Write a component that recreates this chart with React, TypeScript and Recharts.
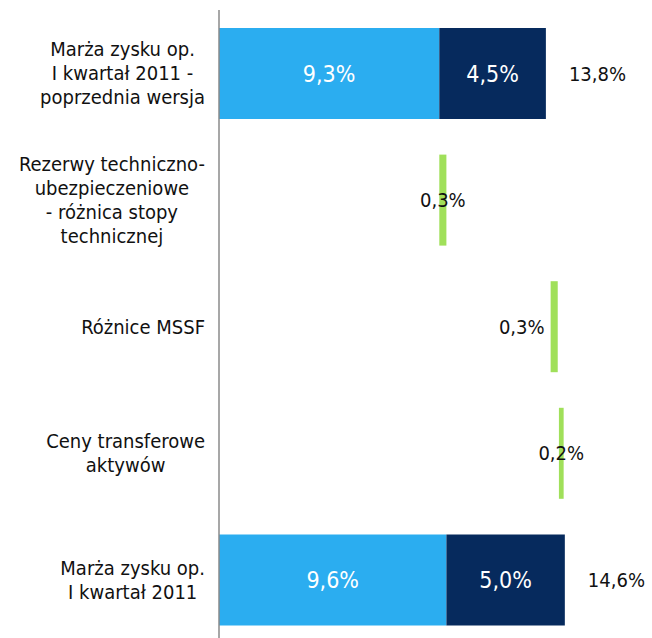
import * as React from 'react';
import { BarChart, Bar, XAxis, YAxis, LabelList } from 'recharts';

const categories = [
  'Marża zysku op.|I kwartał 2011 -|poprzednia wersja',
  'Rezerwy techniczno-|ubezpieczeniowe|- różnica stopy|technicznej',
  'Różnice MSSF',
  'Ceny transferowe|aktywów',
  'Marża zysku op.|I kwartał 2011',
];
// waterfall pieces (in %)
const baseValues = [9.3, 0, 0, 0, 9.6];
const topValues = [4.5, 0, 0, 0, 5.0];
const offsets = [0, 9.3, 14.0, 14.35, 0];
const changes = [0, 0.3, 0.3, 0.2, 0];

const LIGHT = '#2badf0';
const DARK = '#062a5d';
const GREEN = '#a0e05a';
const FONT = '"DejaVu Sans Condensed", "Liberation Sans", sans-serif';

const data = categories.map((name, i) => ({
  name,
  offset: offsets[i],
  base: baseValues[i],
  top: topValues[i],
  change: changes[i],
}));

const fmt = (v: number) => v.toFixed(1).replace('.', ',') + '%';

let canvas: HTMLCanvasElement | null = null;
const measure = (s: string, size: number) => {
  if (!canvas) canvas = document.createElement('canvas');
  const ctx = canvas.getContext('2d');
  if (!ctx) return s.length * size * 0.5;
  ctx.font = size + 'px ' + FONT;
  return ctx.measureText(s).width;
};

const CategoryTick = (props: any) => {
  const { x, y, payload } = props;
  const lines: string[] = String(payload.value).split('|');
  const size = 20;
  const lh = 24;
  const right = x - 6;
  const w = Math.max(...lines.map(l => measure(l, size)));
  const cx = right - w / 2;
  const y0 = y - ((lines.length - 1) * lh) / 2;
  return (
    <g>
      {lines.map((l, i) => (
        <text key={i} x={cx} y={y0 + i * lh} textAnchor="middle" dominantBaseline="central"
          fontSize={size} fontFamily={FONT} fill="#111">{l}</text>
      ))}
    </g>
  );
};

const WhiteLabel = (props: any) => {
  const { x, y, width, height, value } = props;
  if (!value) return null;
  return (
    <text x={x + width / 2} y={y + height / 2} textAnchor="middle" dominantBaseline="central"
      fontSize={23} fontFamily={FONT} fill="#fff">{fmt(value)}</text>
  );
};

// value here is the category name, so we can look up the row
const TotalLabel = (props: any) => {
  const { x, y, width, height, value } = props;
  const i = categories.indexOf(value);
  if (i < 0 || !topValues[i]) return null;
  const total = baseValues[i] + topValues[i];
  return (
    <text x={x + width + 23} y={y + height / 2} textAnchor="start" dominantBaseline="central"
      fontSize={20} fontFamily={FONT} fill="#111">{fmt(total)}</text>
  );
};

const ChangeLabel = (props: any) => {
  const { x, y, width, height, value } = props;
  const i = categories.indexOf(value);
  if (i < 0 || !changes[i]) return null;
  const beside = i === 2;
  return (
    <text x={beside ? x - 6 : x + width / 2} y={y + height / 2}
      textAnchor={beside ? 'end' : 'middle'} dominantBaseline="central"
      fontSize={20} fontFamily={FONT} fill="#111">{fmt(changes[i])}</text>
  );
};

export default function App() {
  return (
    <div style={{ position: 'absolute', left: 0, top: 0, width: 652, height: 638, overflow: 'hidden', background: '#fff' }}>
      <BarChart width={652} height={643} data={data} layout="vertical"
        margin={{ top: 10, right: 54, bottom: 0, left: 0 }}>
        <XAxis type="number" domain={[0, 16]} hide />
        <YAxis type="category" dataKey="name" width={219} tickLine={false}
          axisLine={{ stroke: '#8a8a8a', strokeWidth: 1.5 }} tick={<CategoryTick />} interval={0} />
        <Bar dataKey="offset" stackId="w" fill="transparent" barSize={91} isAnimationActive={false} />
        <Bar dataKey="base" stackId="w" fill={LIGHT} barSize={91} isAnimationActive={false}>
          <LabelList dataKey="base" content={<WhiteLabel />} />
        </Bar>
        <Bar dataKey="top" stackId="w" fill={DARK} barSize={91} isAnimationActive={false}>
          <LabelList dataKey="top" content={<WhiteLabel />} />
          <LabelList dataKey="name" content={<TotalLabel />} />
        </Bar>
        <Bar dataKey="change" stackId="w" fill={GREEN} barSize={91} isAnimationActive={false}>
          <LabelList dataKey="name" content={<ChangeLabel />} />
        </Bar>
      </BarChart>
    </div>
  );
}
